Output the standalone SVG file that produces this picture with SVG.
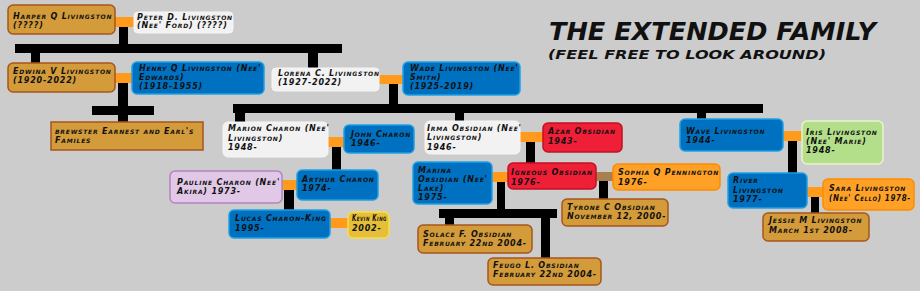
<svg xmlns="http://www.w3.org/2000/svg" width="920" height="291" viewBox="0 0 920 291">
<style>
.t{font-family:"DejaVu Sans",sans-serif;font-weight:bold;font-style:italic;font-variant:small-caps;font-size:8px;letter-spacing:0.8px;fill:#111}
.gold{fill:#d39b3a;stroke:#a6561e;stroke-width:1.5}
.blue{fill:#0070c0;stroke:#1ea0e4;stroke-width:1.5}
.white{fill:#f2f2f2;stroke:#f6f6f6;stroke-width:1}
.red{fill:#ef1f38;stroke:#c01222;stroke-width:1.5}
.orange{fill:#ffa126;stroke:#ff8a00;stroke-width:1.5}
.green{fill:#b4df8a;stroke:#e6f4cf;stroke-width:1.5}
.purple{fill:#e0c8e6;stroke:#b383c2;stroke-width:1.5}
.yellow{fill:#e6bf3a;stroke:#f7de45;stroke-width:1.5}
.bar{fill:#000}
.link{fill:#ff9a1c}
.blink{fill:#a8804f}
.title{font-family:"DejaVu Sans",sans-serif;font-weight:900;font-style:italic;fill:#111}
</style>
<rect width="920" height="291" fill="#cccccc"/>
<g id="connectors">
<rect class="link" x="115" y="17" width="19" height="10"/>
<rect class="bar" x="119" y="27" width="9" height="17"/>
<rect class="bar" x="15" y="44" width="327" height="9"/>
<rect class="bar" x="31" y="53" width="9" height="10"/>
<rect class="bar" x="308" y="53" width="10" height="15"/>
<rect class="link" x="115" y="73" width="17" height="10"/>
<rect class="bar" x="118" y="83" width="10" height="39"/>
<rect class="bar" x="92" y="106" width="62" height="9"/>
<rect class="link" x="379" y="75" width="24" height="9"/>
<rect class="bar" x="389" y="84" width="9" height="20"/>
<rect class="bar" x="233" y="104" width="530" height="9"/>
<rect class="bar" x="235" y="113" width="10" height="10"/>
<rect class="bar" x="455" y="113" width="9" height="8"/>
<rect class="bar" x="697" y="113" width="9" height="6"/>
<rect class="link" x="328" y="137" width="16" height="10"/>
<rect class="bar" x="332" y="147" width="9" height="23"/>
<rect class="link" x="282" y="180" width="15" height="10"/>
<rect class="bar" x="284" y="190" width="10" height="20"/>
<rect class="link" x="330" y="218" width="18" height="10"/>
<rect class="link" x="520" y="132" width="23" height="10"/>
<rect class="bar" x="526" y="142" width="9" height="21"/>
<rect class="link" x="492" y="172" width="16" height="10"/>
<rect class="bar" x="497" y="182" width="8" height="28"/>
<rect class="bar" x="439" y="209" width="118" height="9"/>
<rect class="bar" x="445" y="218" width="9" height="7"/>
<rect class="bar" x="541" y="218" width="9" height="40"/>
<rect class="blink" x="596" y="172" width="17" height="9"/>
<rect class="bar" x="599" y="181" width="9" height="18"/>
<rect class="link" x="783" y="131" width="19" height="10"/>
<rect class="bar" x="788" y="141" width="9" height="32"/>
<rect class="link" x="807" y="187" width="17" height="10"/>
<rect class="bar" x="811" y="197" width="8" height="16"/>
</g>
<g id="title">
<text class="title" x="549" y="40" font-size="25" textLength="327" lengthAdjust="spacingAndGlyphs">THE EXTENDED FAMILY</text>
<text class="title" x="548" y="59" font-size="13" textLength="278" lengthAdjust="spacingAndGlyphs">(FEEL FREE TO LOOK AROUND)</text>
</g>
<g id="harper"><rect class="gold" x="8" y="5" width="107" height="29" rx="5"/><text class="t" x="13" y="19">Harper Q Livingston</text><text class="t" x="13" y="28">(????)</text></g>
<g id="peter"><rect class="white" x="134" y="12" width="99" height="21" rx="4"/><text class="t" x="137" y="19.5">Peter D. Livingston</text><text class="t" x="137" y="28">(Nee' Ford) (????)</text></g>
<g id="edwina"><rect class="gold" x="8" y="63" width="107" height="29" rx="5"/><text class="t" x="13" y="74">Edwina V Livingston</text><text class="t" x="13" y="83">(1920-2022)</text></g>
<g id="henry"><rect class="blue" x="132" y="62" width="132" height="32" rx="5"/><text class="t" x="139" y="71">Henry Q Livingston (Nee'</text><text class="t" x="139" y="80">Edwards)</text><text class="t" x="139" y="89">(1918-1955)</text></g>
<g id="brewster"><rect class="gold" x="51" y="122" width="152" height="28"/><text class="t" x="55" y="134">brewster Earnest and Earl's</text><text class="t" x="55" y="143">Familes</text></g>
<g id="lorena"><rect class="white" x="272" y="68" width="107" height="23" rx="4"/><text class="t" x="278" y="76">Lorena C. Livingston</text><text class="t" x="278" y="85">(1927-2022)</text></g>
<g id="wade"><rect class="blue" x="403" y="62" width="117" height="33" rx="5"/><text class="t" x="410" y="71">Wade Livingston (Nee'</text><text class="t" x="410" y="79.5">Smith)</text><text class="t" x="410" y="88.5">(1925-2019)</text></g>
<g id="marion"><rect class="white" x="223" y="122" width="105" height="35" rx="5"/><text class="t" x="228" y="131">Marion Charon (Nee'</text><text class="t" x="228" y="140.5">Livingston)</text><text class="t" x="228" y="149.5">1948-</text></g>
<g id="john"><rect class="blue" x="344" y="125" width="70" height="28" rx="5"/><text class="t" x="351" y="137">John Charon</text><text class="t" x="351" y="146">1946-</text></g>
<g id="pauline"><rect class="purple" x="170" y="171" width="112" height="32" rx="5"/><text class="t" x="177" y="185">Pauline Charon (Nee'</text><text class="t" x="177" y="194">Akira) 1973-</text></g>
<g id="arthur"><rect class="blue" x="297" y="170" width="81" height="30" rx="5"/><text class="t" x="302" y="182">Arthur Charon</text><text class="t" x="302" y="191">1974-</text></g>
<g id="lucas"><rect class="blue" x="229" y="210" width="101" height="28" rx="5"/><text class="t" x="235" y="221">Lucas Charon-King</text><text class="t" x="235" y="231">1995-</text></g>
<g id="kevin"><rect class="yellow" x="348" y="212" width="41" height="26" rx="5"/><text class="t" x="352" y="221" textLength="35" lengthAdjust="spacingAndGlyphs">Kevin King</text><text class="t" x="352" y="231">2002-</text></g>
<g id="irma"><rect class="white" x="425" y="121" width="95" height="33" rx="5"/><text class="t" x="427" y="131">Irma Obsidian (Nee'</text><text class="t" x="427" y="140">Livingston)</text><text class="t" x="427" y="150">1946-</text></g>
<g id="azar"><rect class="red" x="543" y="123" width="79" height="29" rx="5"/><text class="t" x="548" y="134">Azar Obsidian</text><text class="t" x="548" y="144">1943-</text></g>
<g id="marina"><rect class="blue" x="413" y="162" width="79" height="42" rx="5"/><text class="t" x="418" y="172.5">Marina</text><text class="t" x="418" y="181.5">Obsidian (Nee'</text><text class="t" x="418" y="190.5">Lake)</text><text class="t" x="418" y="199.5">1975-</text></g>
<g id="igneous"><rect class="red" x="508" y="163" width="88" height="26" rx="5"/><text class="t" x="511" y="175">Igneous Obsidian</text><text class="t" x="511" y="184.5">1976-</text></g>
<g id="sophia"><rect class="orange" x="613" y="164" width="107" height="26" rx="5"/><text class="t" x="618" y="175">Sophia Q Pennington</text><text class="t" x="618" y="184.5">1976-</text></g>
<g id="tyrone"><rect class="gold" x="562" y="199" width="106" height="27" rx="5"/><text class="t" x="567" y="210">Tyrone C Obsidian</text><text class="t" x="567" y="219">November 12, 2000-</text></g>
<g id="solace"><rect class="gold" x="418" y="225" width="114" height="28" rx="5"/><text class="t" x="423" y="237">Solace F. Obsidian</text><text class="t" x="423" y="246">February 22nd 2004-</text></g>
<g id="feugo"><rect class="gold" x="488" y="258" width="113" height="27" rx="5"/><text class="t" x="493" y="268">Feugo L. Obsidian</text><text class="t" x="493" y="277">February 22nd 2004-</text></g>
<g id="wave"><rect class="blue" x="680" y="119" width="103" height="32" rx="5"/><text class="t" x="686" y="134">Wave Livingston</text><text class="t" x="686" y="143">1944-</text></g>
<g id="iris"><rect class="green" x="802" y="121" width="81" height="43" rx="5"/><text class="t" x="806" y="135">Iris Livingston</text><text class="t" x="806" y="144">(Nee' Marie)</text><text class="t" x="806" y="153">1948-</text></g>
<g id="river"><rect class="blue" x="728" y="173" width="79" height="35" rx="5"/><text class="t" x="733" y="183">River</text><text class="t" x="733" y="192.5">Livingston</text><text class="t" x="733" y="201.5">1977-</text></g>
<g id="sara"><rect class="orange" x="823" y="179" width="91" height="31" rx="5"/><text class="t" x="829" y="191">Sara Livingston</text><text class="t" x="829" y="200.5" textLength="82" lengthAdjust="spacingAndGlyphs">(Nee' Cello) 1978-</text></g>
<g id="jessie"><rect class="gold" x="763" y="213" width="106" height="28" rx="5"/><text class="t" x="769" y="223">Jessie M Livingston</text><text class="t" x="769" y="232.5">March 1st 2008-</text></g>
</svg>
